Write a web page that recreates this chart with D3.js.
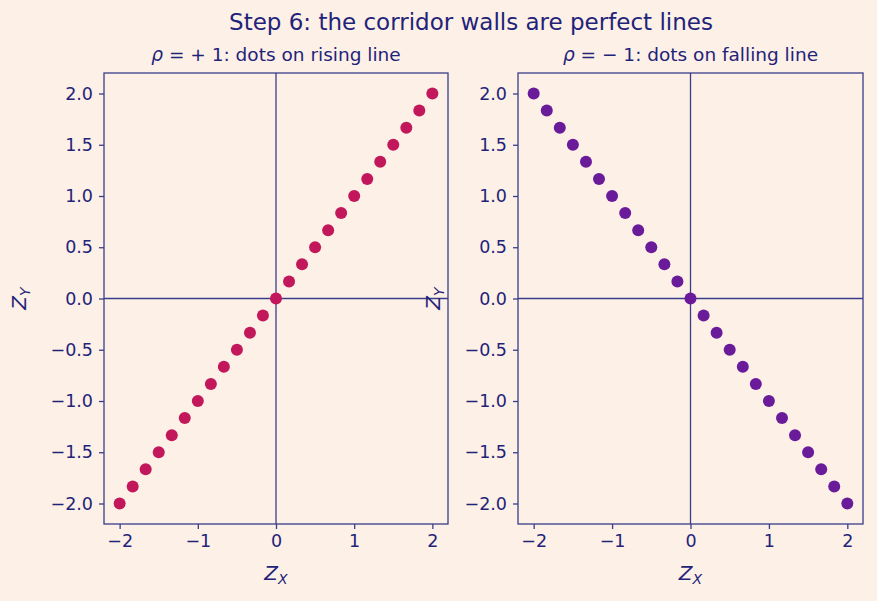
<!DOCTYPE html>
<html>
<head>
<meta charset="utf-8">
<script src="https://cdn.jsdelivr.net/npm/d3@7"></script>
<style>
  body { margin: 0; background: #fdf0e6; }
  svg { display: block; font-family: "DejaVu Sans", sans-serif; }
</style>
</head>
<body>
<svg width="877" height="601"></svg>
<script>
var zx = [-2.0, -1.833, -1.667, -1.5, -1.333, -1.167, -1.0, -0.833, -0.667, -0.5, -0.333, -0.167, 0.0,
          0.167, 0.333, 0.5, 0.667, 0.833, 1.0, 1.167, 1.333, 1.5, 1.667, 1.833, 2.0];
var zyRising = [-2.0, -1.833, -1.667, -1.5, -1.333, -1.167, -1.0, -0.833, -0.667, -0.5, -0.333, -0.167, 0.0,
          0.167, 0.333, 0.5, 0.667, 0.833, 1.0, 1.167, 1.333, 1.5, 1.667, 1.833, 2.0];
var zyFalling = [2.0, 1.833, 1.667, 1.5, 1.333, 1.167, 1.0, 0.833, 0.667, 0.5, 0.333, 0.167, 0.0,
          -0.167, -0.333, -0.5, -0.667, -0.833, -1.0, -1.167, -1.333, -1.5, -1.667, -1.833, -2.0];
var xTicks = [-2, -1, 0, 1, 2];
var yTicks = [-2.0, -1.5, -1.0, -0.5, 0.0, 0.5, 1.0, 1.5, 2.0];

var ink = "#1f237a", frame = "#3a3d8a";
var svg = d3.select("svg");

svg.append("text")
  .attr("x", 471).attr("y", 30)
  .attr("text-anchor", "middle")
  .attr("font-size", 23)
  .attr("fill", ink)
  .text("Step 6: the corridor walls are perfect lines");

var panels = [
  {left: 104, right: 448, ys: zyRising, color: "#c2185b", sign: "+ 1", desc: "dots on rising line"},
  {left: 518, right: 863, ys: zyFalling, color: "#6a1b9a", sign: "\u2212 1", desc: "dots on falling line"}
];
var plotTop = 73, plotBottom = 524;

panels.forEach(function(p) {
  var x = d3.scaleLinear().domain([-2.2, 2.2]).range([p.left, p.right]);
  var y = d3.scaleLinear().domain([-2.2, 2.2]).range([plotBottom, plotTop]);
  var g = svg.append("g");

  // zero lines
  g.append("line").attr("x1", x(0)).attr("x2", x(0)).attr("y1", plotTop).attr("y2", plotBottom)
    .attr("stroke", frame).attr("stroke-width", 1.3);
  g.append("line").attr("x1", p.left).attr("x2", p.right).attr("y1", y(0)).attr("y2", y(0))
    .attr("stroke", frame).attr("stroke-width", 1.3);

  g.selectAll("circle").data(zx).enter().append("circle")
    .attr("cx", function(d) { return x(d); })
    .attr("cy", function(d, i) { return y(p.ys[i]); })
    .attr("r", 6)
    .attr("fill", p.color);

  g.append("rect").attr("x", p.left).attr("y", plotTop)
    .attr("width", p.right - p.left).attr("height", plotBottom - plotTop)
    .attr("fill", "none").attr("stroke", frame).attr("stroke-width", 1.3);

  var xa = g.append("g").attr("transform", "translate(0," + plotBottom + ")")
    .call(d3.axisBottom(x).tickValues(xTicks).tickSize(5).tickPadding(6)
      .tickFormat(function(d) { return d < 0 ? "\u2212" + Math.abs(d) : d; }));
  var ya = g.append("g").attr("transform", "translate(" + p.left + ",0)")
    .call(d3.axisLeft(y).tickValues(yTicks).tickSize(5).tickPadding(6)
      .tickFormat(function(d) { var s = Math.abs(d).toFixed(1); return d < 0 ? "\u2212" + s : s; }));
  [xa, ya].forEach(function(a) {
    a.select(".domain").remove();
    a.selectAll("line").attr("stroke", frame).attr("stroke-width", 1.3);
    a.selectAll("text").attr("fill", ink).attr("font-size", 17.5)
      .attr("font-family", "DejaVu Sans, sans-serif");
  });

  var mid = (p.left + p.right) / 2;
  var t = g.append("text").attr("x", mid).attr("y", 61).attr("text-anchor", "middle")
    .attr("font-size", 18.5).attr("fill", ink);
  t.append("tspan").attr("font-style", "italic").text("\u03c1");
  t.append("tspan").text(" = " + p.sign + ": " + p.desc);

  var xl = g.append("text").attr("x", mid).attr("y", 580).attr("text-anchor", "middle")
    .attr("font-size", 20).attr("fill", ink).attr("font-style", "italic");
  xl.append("tspan").text("Z");
  xl.append("tspan").attr("font-size", 14).attr("dy", 4).text("X");

  var yl = g.append("text").attr("transform", "translate(" + (p.left - 78) + "," + y(0) + ") rotate(-90)")
    .attr("text-anchor", "middle").attr("font-size", 20).attr("fill", ink).attr("font-style", "italic");
  yl.append("tspan").text("Z");
  yl.append("tspan").attr("font-size", 14).attr("dy", 4).text("Y");
});
</script>
</body>
</html>
